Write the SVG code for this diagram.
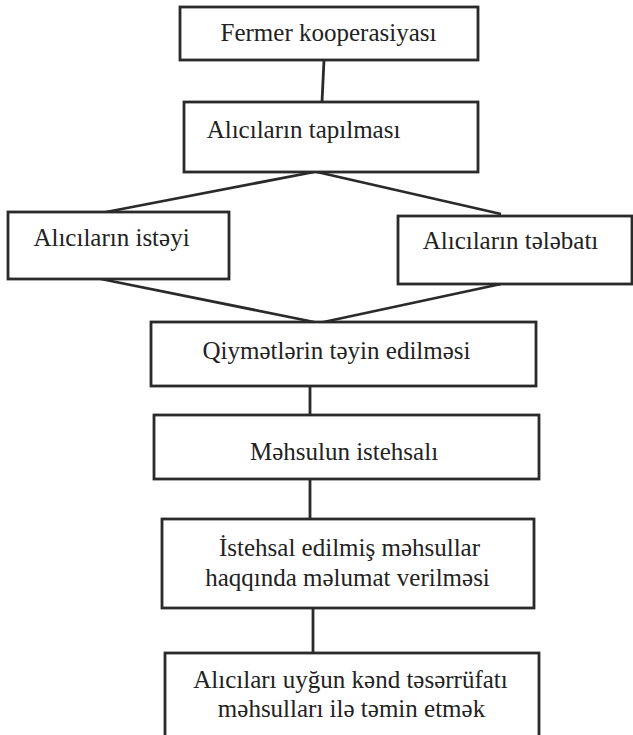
<svg xmlns="http://www.w3.org/2000/svg" width="633" height="735" viewBox="0 0 633 735">
<style>
.b{fill:#fff;stroke:#2a2a2a;stroke-width:2.8}
.c{stroke:#2a2a2a;stroke-width:2.8;fill:none}
text{font-family:"Liberation Serif","Times New Roman",serif;font-size:25px;fill:#222;text-anchor:middle}
</style>
<rect width="633" height="735" fill="#fff"/>
<g id="connectors">
<line class="c" x1="324" y1="60" x2="322" y2="102"/>
<line class="c" x1="314" y1="172" x2="101" y2="213"/>
<line class="c" x1="317" y1="172" x2="501" y2="214"/>
<line class="c" x1="101" y1="279" x2="319" y2="323"/>
<line class="c" x1="501" y1="284" x2="319" y2="323"/>
<line class="c" x1="310" y1="386" x2="310" y2="415"/>
<line class="c" x1="310" y1="479" x2="310" y2="519"/>
<line class="c" x1="313" y1="608" x2="313" y2="653"/>
</g>
<g id="n1"><rect class="b" x="180" y="7" width="298" height="53"/><text x="328.5" y="41">Fermer kooperasiyası</text></g>
<g id="n2"><rect class="b" x="184" y="102" width="294" height="70"/><text x="303.5" y="138">Alıcıların tapılması</text></g>
<g id="n3"><rect class="b" x="8" y="212" width="221" height="67"/><text x="111.5" y="246">Alıcıların istəyi</text></g>
<g id="n4"><rect class="b" x="398" y="216" width="234" height="68"/><text x="510.5" y="249">Alıcıların tələbatı</text></g>
<g id="n5"><rect class="b" x="151" y="322" width="385" height="64"/><text x="336.5" y="359">Qiymətlərin təyin edilməsi</text></g>
<g id="n6"><rect class="b" x="154" y="415" width="385" height="64"/><text x="344" y="460">Məhsulun istehsalı</text></g>
<g id="n7"><rect class="b" x="162" y="519" width="372" height="89"/><text x="349.5" y="556">İstehsal edilmiş məhsullar</text><text x="347.5" y="586">haqqında məlumat verilməsi</text></g>
<g id="n8"><rect class="b" x="165" y="653" width="374" height="90"/><text x="350.5" y="688">Alıcıları uyğun kənd təsərrüfatı</text><text x="351.5" y="717">məhsulları ilə təmin etmək</text></g>
</svg>
